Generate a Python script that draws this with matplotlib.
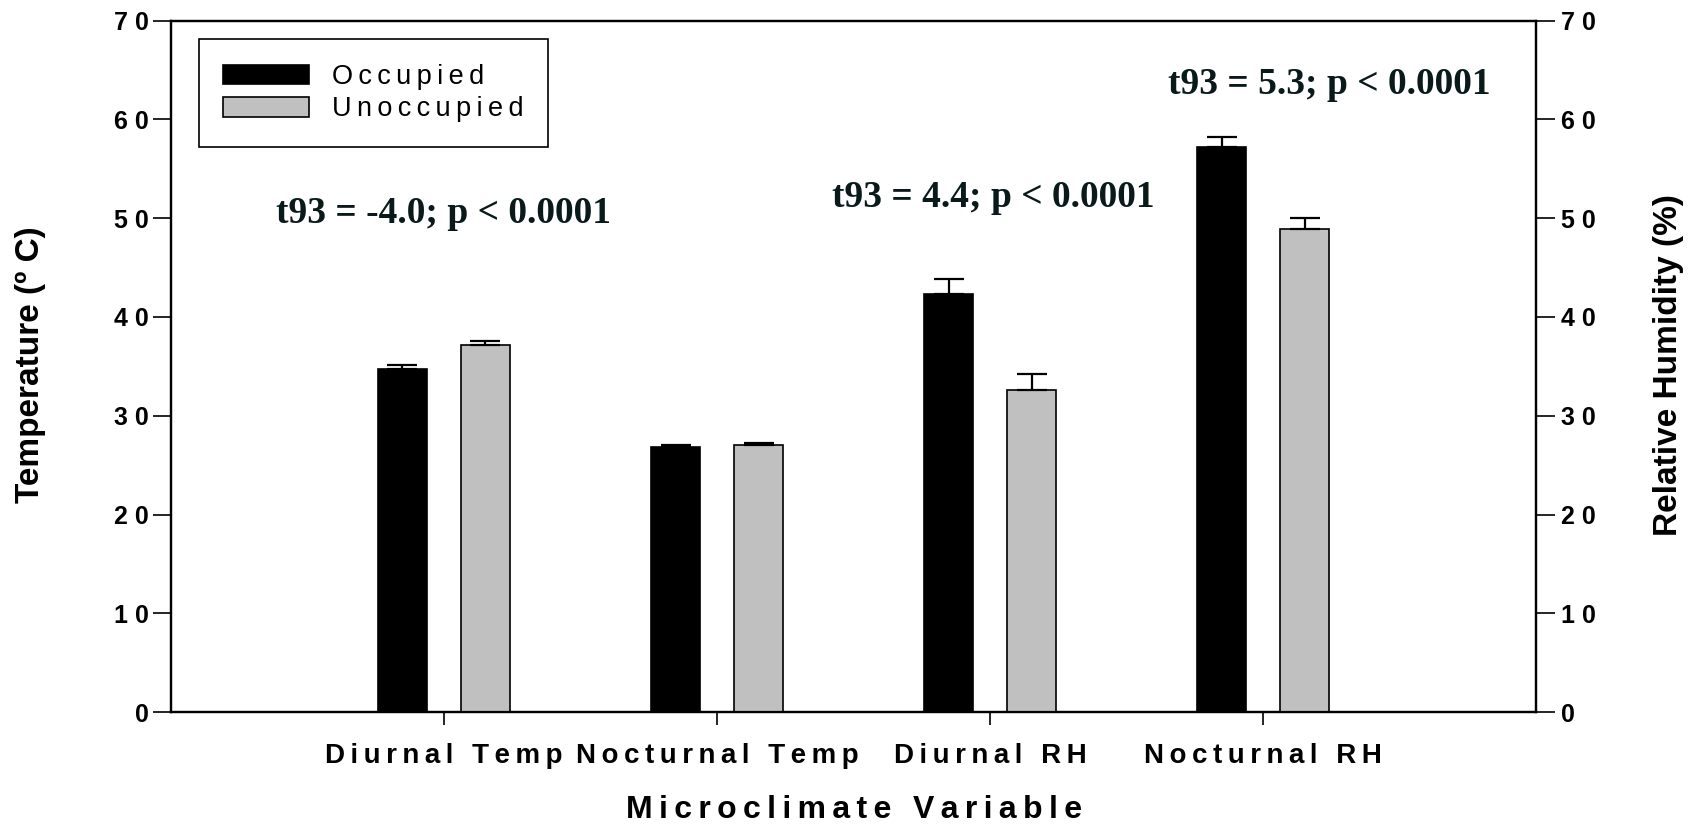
import matplotlib
matplotlib.use("Agg")
import matplotlib.pyplot as plt
import numpy as np
from matplotlib.patches import Patch

# Microclimate means and standard errors for occupied / unoccupied sites
categories = ["Diurnal Temp", "Nocturnal Temp", "Diurnal RH", "Nocturnal RH"]
occupied = [34.7, 26.8, 42.3, 57.2]
occupied_se = [0.45, 0.2, 1.5, 1.05]
unoccupied = [37.2, 27.0, 32.6, 48.9]
unoccupied_se = [0.4, 0.25, 1.6, 1.15]
series_names = ["Occupied", "Unoccupied"]

stat_labels = ["t93 = -4.0; p < 0.0001", "t93 = 4.4; p < 0.0001", "t93 = 5.3; p < 0.0001"]
stat_x = [0.0, 2.01, 3.24]
stat_y = [50.5, 52.1, 63.5]

y_ticks = [0, 10, 20, 30, 40, 50, 60, 70]

SP = "\u2009"
FAM = ["Liberation Sans", "DejaVu Sans"]


def spaced(s, sep=SP):
    return sep.join(s)


fig = plt.figure(figsize=(16.94, 8.27), dpi=100)
ax = fig.add_axes([0.1008, 0.139, 0.8062, 0.836])

x = np.arange(len(categories))
w = 0.18
off = 0.152
ax.bar(x - off, occupied, w, color="black", edgecolor="black", linewidth=1.2, zorder=2)
ax.bar(x + off, unoccupied, w, color="#c0c0c0", edgecolor="black", linewidth=1.2, zorder=2)
err_kw = dict(fmt="none", ecolor="black", elinewidth=1.6, capsize=10.5, capthick=1.6, zorder=3)
ax.errorbar(x - off, occupied, yerr=[np.zeros(4), occupied_se], **err_kw)
ax.errorbar(x + off, unoccupied, yerr=[np.zeros(4), unoccupied_se], **err_kw)

ytick_text = [spaced(str(t), " ") if t else "0" for t in y_ticks]

ax.set_xlim(-1, 4)
ax.set_ylim(0, 70)
ax.set_xticks(x)
ax.set_xticklabels([spaced(c) for c in categories], fontsize=20, fontweight="bold", family=FAM)
ax.set_yticks(y_ticks)
ax.set_yticklabels(ytick_text, fontsize=18, fontweight="bold", family=FAM)
ax.tick_params(axis="y", direction="out", length=13, width=1.2, pad=3)
ax.tick_params(axis="x", direction="out", length=9, width=1.2, pad=13)
for s in ax.spines.values():
    s.set_linewidth(1.6)

ax2 = ax.twinx()
ax2.set_ylim(0, 70)
ax2.set_yticks(y_ticks)
ax2.set_yticklabels(ytick_text, fontsize=18, fontweight="bold", family=FAM)
ax2.tick_params(axis="y", direction="out", length=14, width=1.2, pad=4)
for s in ax2.spines.values():
    s.set_linewidth(1.6)

ax.set_ylabel("Temperature (º C)", fontsize=24, fontweight="bold", family="Liberation Sans")
ax.yaxis.set_label_coords(-0.103, 0.502)
ax.yaxis.label.set_va("center")
ax2.set_ylabel("Relative Humidity (%)", fontsize=24, fontweight="bold", family="Liberation Sans")
ax2.yaxis.set_label_coords(1.097, 0.502)
ax2.yaxis.label.set_va("center")
ax.set_xlabel(spaced("Microclimate Variable"), fontsize=23, fontweight="bold", family=FAM)
ax.xaxis.set_label_coords(0.5, -0.142)
ax.xaxis.label.set_va("center")

for txt, tx, ty in zip(stat_labels, stat_x, stat_y):
    ax.text(tx, ty, txt, ha="center", va="center", fontsize=27, fontweight="bold",
            family="Liberation Serif", color="#0a1a1a", zorder=4)

handles = [Patch(facecolor="black", edgecolor="black", linewidth=1.2),
           Patch(facecolor="#c0c0c0", edgecolor="black", linewidth=1.2)]
leg = ax.legend(handles, [spaced(n) for n in series_names], loc="upper left",
                bbox_to_anchor=(0.0207, 0.973), fancybox=False, framealpha=1,
                edgecolor="black", prop=dict(family=FAM, size=19.5),
                handlelength=3.15, handleheight=0.72, handletextpad=0.85, labelspacing=0.25,
                borderpad=0.9, borderaxespad=0)
leg.get_frame().set_linewidth(1.2)
leg.set_zorder(5)
ax2.set_zorder(0)
ax.set_zorder(1)
ax.patch.set_visible(False)

fig.savefig("out.png", dpi=100)
